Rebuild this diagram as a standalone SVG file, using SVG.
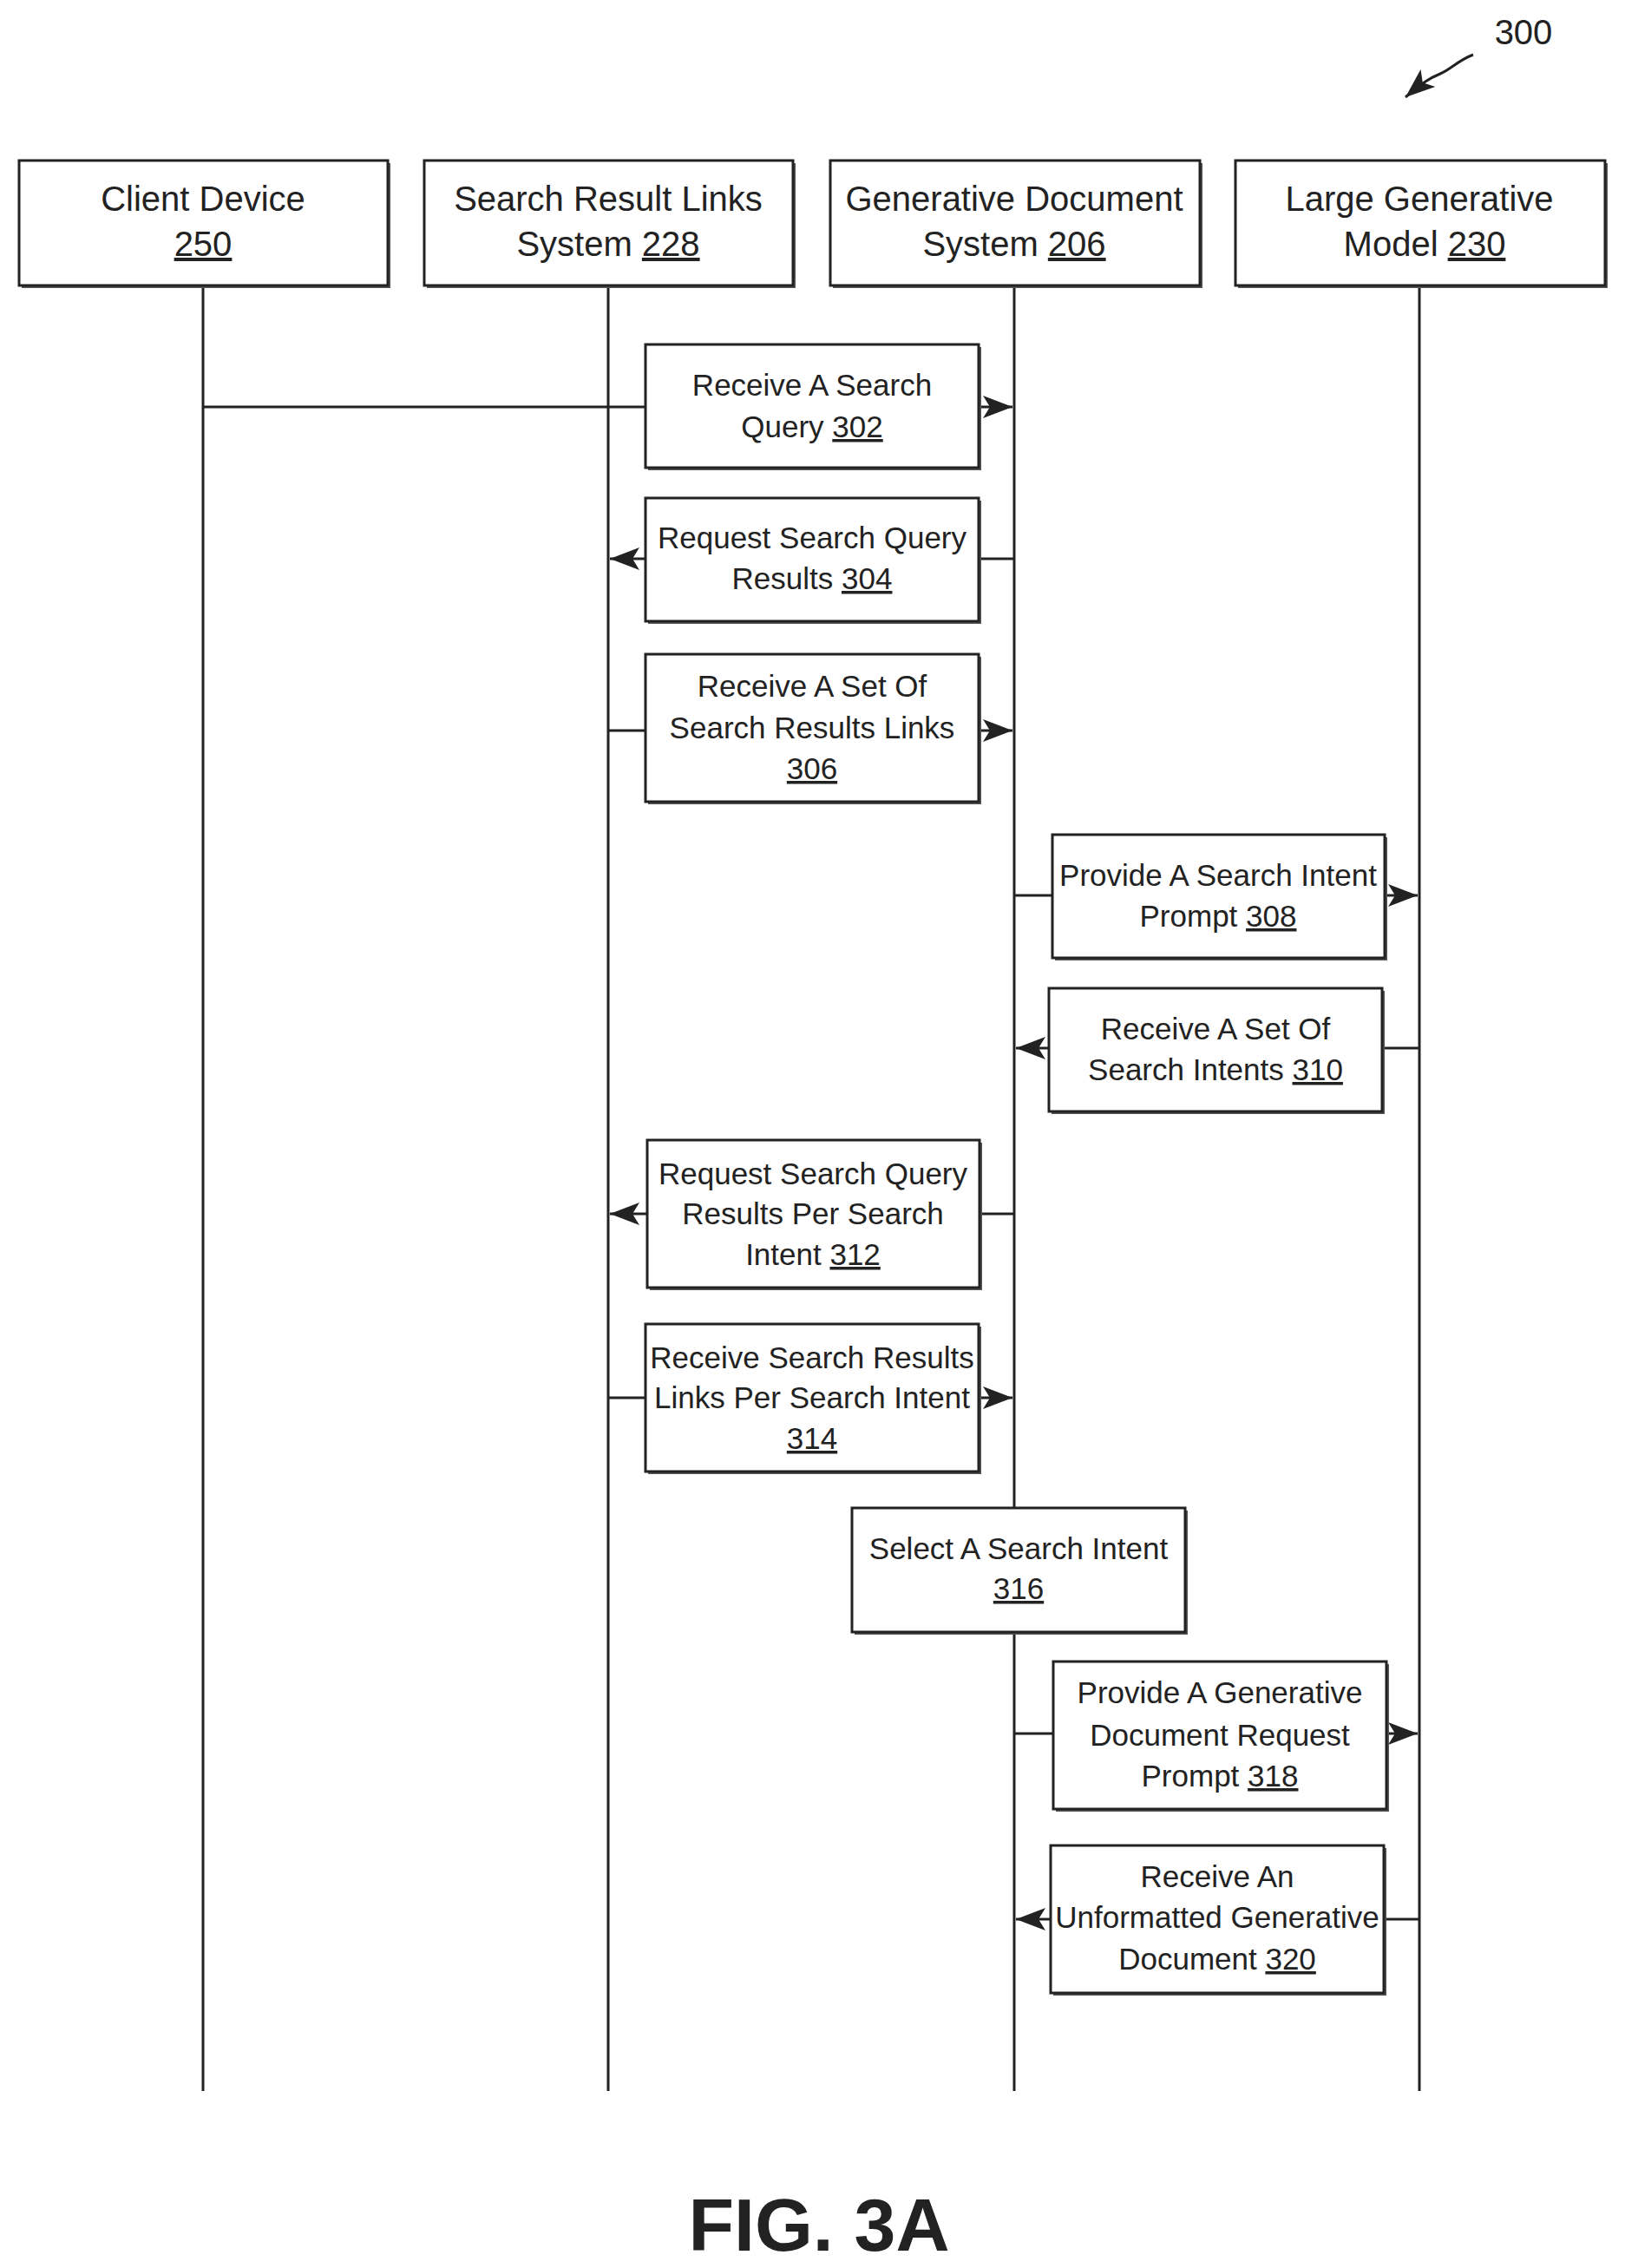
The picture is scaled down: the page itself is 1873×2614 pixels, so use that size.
<svg xmlns="http://www.w3.org/2000/svg" width="1873" height="2614" viewBox="0 0 1873 2614">
<style>
text{font-family:"Liberation Sans Narrow","Liberation Sans",Arial,sans-serif;fill:#222;text-anchor:middle}
.h{font-size:40px}.s{font-size:35px}
.b{fill:#fff;stroke:#222;stroke-width:3}
.sh{fill:#555}
.l{stroke:#222;stroke-width:3;fill:none}
u{}
</style>
<defs>
<marker id="a" viewBox="0 0 12 12" refX="11" refY="6" markerWidth="12" markerHeight="12" markerUnits="userSpaceOnUse" orient="auto">
<path d="M0,0 L12,6 L0,12 L3,6 Z" fill="#222"/>
</marker>
<marker id="ar" viewBox="0 0 36 30" refX="34" refY="15" markerWidth="36" markerHeight="30" markerUnits="userSpaceOnUse" orient="auto">
<path d="M0,2 L34,15 L0,28 L8,15 Z" fill="#222"/>
</marker>
</defs>
<g id="lifelines">
<line class="l" x1="234" y1="329" x2="234" y2="2410"/>
<line class="l" x1="701" y1="329" x2="701" y2="2410"/>
<line class="l" x1="1169" y1="329" x2="1169" y2="2410"/>
<line class="l" x1="1636" y1="329" x2="1636" y2="2410"/>
</g>
<g id="connectors">
<line class="l" x1="234" y1="469" x2="1167" y2="469" marker-end="url(#ar)"/>
<line class="l" x1="1169" y1="644" x2="703" y2="644" marker-end="url(#ar)"/>
<line class="l" x1="701" y1="842" x2="1167" y2="842" marker-end="url(#ar)"/>
<line class="l" x1="1169" y1="1032" x2="1634" y2="1032" marker-end="url(#ar)"/>
<line class="l" x1="1636" y1="1208" x2="1171" y2="1208" marker-end="url(#ar)"/>
<line class="l" x1="1169" y1="1399" x2="703" y2="1399" marker-end="url(#ar)"/>
<line class="l" x1="701" y1="1611" x2="1167" y2="1611" marker-end="url(#ar)"/>
<line class="l" x1="1169" y1="1998" x2="1634" y2="1998" marker-end="url(#ar)"/>
<line class="l" x1="1636" y1="2212" x2="1171" y2="2212" marker-end="url(#ar)"/>
<path class="l" d="M1698,63 C1680,70 1672,80 1660,85 C1648,90 1640,95 1620,112" marker-end="url(#ar)"/>
</g>
<g id="client"><rect class="sh" x="25" y="188" width="425" height="144"/><rect class="b" x="22" y="185" width="425" height="144"/><text class="h" x="234" y="243">Client Device</text><text class="h" x="234" y="295" text-decoration="underline">250</text></g>
<g id="srls"><rect class="sh" x="492" y="188" width="425" height="144"/><rect class="b" x="489" y="185" width="425" height="144"/><text class="h" x="701" y="243">Search Result Links</text><text class="h" x="701" y="295">System <tspan text-decoration="underline">228</tspan></text></g>
<g id="gds"><rect class="sh" x="960" y="188" width="426" height="144"/><rect class="b" x="957" y="185" width="426" height="144"/><text class="h" x="1169" y="243">Generative Document</text><text class="h" x="1169" y="295">System <tspan text-decoration="underline">206</tspan></text></g>
<g id="lgm"><rect class="sh" x="1427" y="188" width="426" height="144"/><rect class="b" x="1424" y="185" width="426" height="144"/><text class="h" x="1636" y="243">Large Generative</text><text class="h" x="1642" y="295">Model <tspan text-decoration="underline">230</tspan></text></g>

<g id="s302"><rect class="sh" x="747" y="400" width="384" height="142"/><rect class="b" x="744" y="397" width="384" height="142"/><text class="s" x="936" y="456">Receive A Search</text><text class="s" x="936" y="504">Query <tspan text-decoration="underline">302</tspan></text></g>
<g id="s304"><rect class="sh" x="747" y="577" width="384" height="142"/><rect class="b" x="744" y="574" width="384" height="142"/><text class="s" x="936" y="632">Request Search Query</text><text class="s" x="936" y="679">Results <tspan text-decoration="underline">304</tspan></text></g>
<g id="s306"><rect class="sh" x="747" y="757" width="384" height="170"/><rect class="b" x="744" y="754" width="384" height="170"/><text class="s" x="936" y="803">Receive A Set Of</text><text class="s" x="936" y="851">Search Results Links</text><text class="s" x="936" y="898" text-decoration="underline">306</text></g>
<g id="s308"><rect class="sh" x="1216" y="965" width="383" height="142"/><rect class="b" x="1213" y="962" width="383" height="142"/><text class="s" x="1404" y="1021">Provide A Search Intent</text><text class="s" x="1404" y="1068">Prompt <tspan text-decoration="underline">308</tspan></text></g>
<g id="s310"><rect class="sh" x="1212" y="1142" width="384" height="142"/><rect class="b" x="1209" y="1139" width="384" height="142"/><text class="s" x="1401" y="1198">Receive A Set Of</text><text class="s" x="1401" y="1245">Search Intents <tspan text-decoration="underline">310</tspan></text></g>
<g id="s312"><rect class="sh" x="749" y="1317" width="383" height="170"/><rect class="b" x="746" y="1314" width="383" height="170"/><text class="s" x="937" y="1365">Request Search Query</text><text class="s" x="937" y="1411">Results Per Search</text><text class="s" x="937" y="1458">Intent <tspan text-decoration="underline">312</tspan></text></g>
<g id="s314"><rect class="sh" x="747" y="1529" width="384" height="170"/><rect class="b" x="744" y="1526" width="384" height="170"/><text class="s" x="936" y="1577">Receive Search Results</text><text class="s" x="936" y="1623">Links Per Search Intent</text><text class="s" x="936" y="1670" text-decoration="underline">314</text></g>
<g id="s316"><rect class="sh" x="985" y="1741" width="384" height="143"/><rect class="b" x="982" y="1738" width="384" height="143"/><text class="s" x="1174" y="1797">Select A Search Intent</text><text class="s" x="1174" y="1843" text-decoration="underline">316</text></g>
<g id="s318"><rect class="sh" x="1217" y="1918" width="384" height="170"/><rect class="b" x="1214" y="1915" width="384" height="170"/><text class="s" x="1406" y="1963">Provide A Generative</text><text class="s" x="1406" y="2012">Document Request</text><text class="s" x="1406" y="2059">Prompt <tspan text-decoration="underline">318</tspan></text></g>
<g id="s320"><rect class="sh" x="1214" y="2130" width="384" height="170"/><rect class="b" x="1211" y="2127" width="384" height="170"/><text class="s" x="1403" y="2175">Receive An</text><text class="s" x="1403" y="2222">Unformatted Generative</text><text class="s" x="1403" y="2270">Document <tspan text-decoration="underline">320</tspan></text></g>

<text x="1756" y="51" style="font-size:40px">300</text>
<text x="944" y="2594" style="font-size:86px;font-weight:bold;font-family:'Liberation Sans',Arial,sans-serif">FIG. 3A</text>
</svg>
